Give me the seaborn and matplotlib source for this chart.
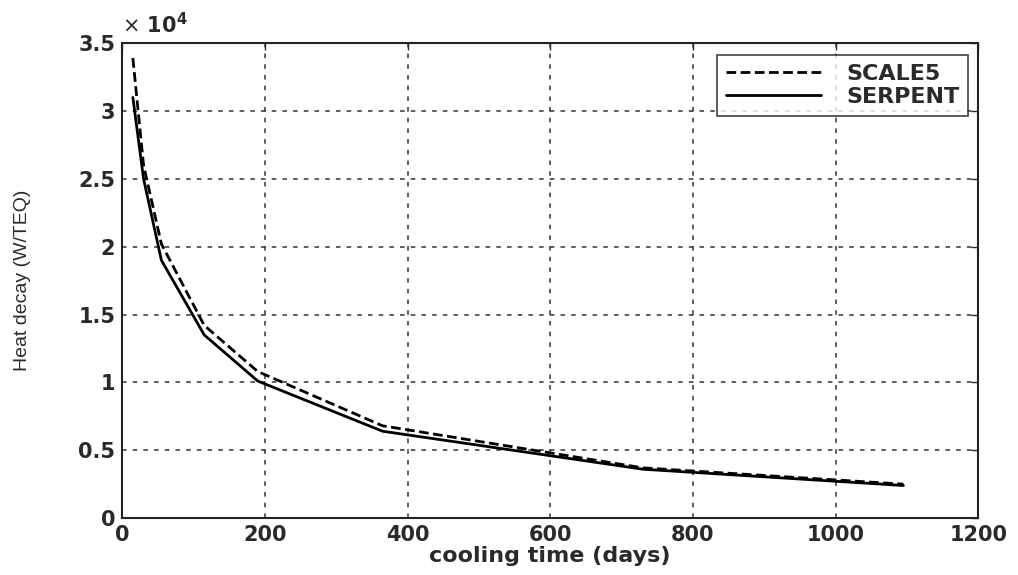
import matplotlib
matplotlib.use("Agg")
import matplotlib.pyplot as plt
import seaborn as sns
import pandas as pd
from matplotlib.ticker import FuncFormatter

days = [15, 30, 55, 115, 190, 365, 730, 1095]
scale5 = [33900, 26000, 20200, 14200, 10800, 6800, 3700, 2500]
serpent = [31000, 25000, 19000, 13500, 10100, 6400, 3600, 2400]
series_names = ["SCALE5", "SERPENT"]
xticks = [0, 200, 400, 600, 800, 1000, 1200]
yticks = [0, 5000, 10000, 15000, 20000, 25000, 30000, 35000]

df = pd.concat([
    pd.DataFrame({"days": days, "heat": scale5, "code": series_names[0]}),
    pd.DataFrame({"days": days, "heat": serpent, "code": series_names[1]}),
])

sns.set_theme(style="white")
plt.rcParams["font.family"] = ["DejaVu Sans"]

fig = plt.figure(figsize=(10.18, 5.75), dpi=100)
ax = fig.add_axes([0.120, 0.099, 0.841, 0.826])

sns.lineplot(data=df, x="days", y="heat", style="code", style_order=series_names,
             dashes={"SCALE5": (3.5, 1.6), "SERPENT": ""}, color="black",
             linewidth=2.0, ax=ax, legend=True)

ax.set_xlim(0, 1200)
ax.set_ylim(0, 35000)
ax.set_xticks(xticks)
ax.set_yticks(yticks)
ax.yaxis.set_major_formatter(FuncFormatter(lambda v, p: f"{v/1e4:g}"))
ax.grid(True, color="#333333", linestyle=(0, (3, 4)), linewidth=1.1)
ax.tick_params(direction="in", top=True, right=True, length=5, width=1,
               labelsize=15, colors="#2a2a2a", pad=5)
for lab in ax.get_xticklabels() + ax.get_yticklabels():
    lab.set_fontweight("bold")
for s in ax.spines.values():
    s.set_color("#222222")
    s.set_linewidth(1.5)

ax.set_xlabel("cooling time (days)", fontsize=16, color="#2a2a2a",
              fontweight="bold", labelpad=1)
ax.set_ylabel("Heat decay (W/TEQ)", fontsize=14, color="#2a2a2a",
              family=["Liberation Sans", "DejaVu Sans"], labelpad=34)
ax.text(0.0, 1.012, r"$\times$ 10$^{\mathbf{4}}$", transform=ax.transAxes, fontsize=15,
        color="#2a2a2a", ha="left", va="bottom", fontweight="bold")

leg = ax.legend(loc="upper right", bbox_to_anchor=(0.988, 0.975), frameon=True,
                fancybox=False, edgecolor="#222222", fontsize=16, handlelength=4.3,
                handletextpad=1.1, borderpad=0.4, labelspacing=0.15,
                borderaxespad=0.0)
leg.get_frame().set_linewidth(1.3)
for t in leg.get_texts():
    t.set_fontweight("bold")
    t.set_color("#2a2a2a")

fig.savefig("out.png", dpi=100)
